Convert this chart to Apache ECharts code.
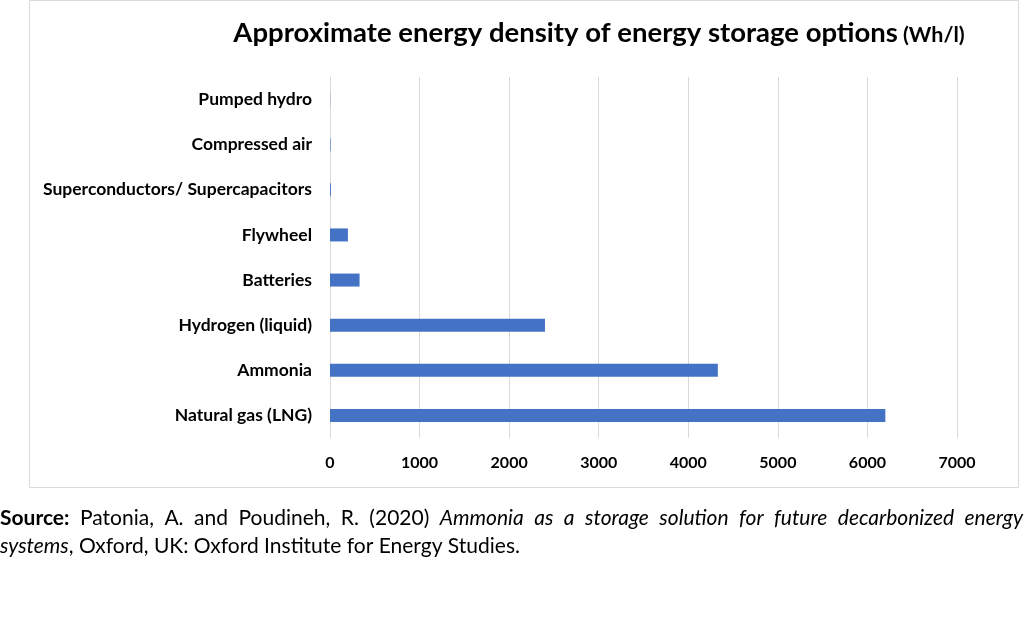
<!DOCTYPE html>
<html><head><meta charset="utf-8">
<script src="https://cdn.jsdelivr.net/npm/echarts@6/dist/echarts.min.js"></script>
<style>html,body{margin:0;padding:0;background:#fff}#c{width:1033px;height:631px}</style>
</head><body><div id="c"></div>
<script>
const categories = ['Natural gas (LNG)','Ammonia','Hydrogen (liquid)','Batteries','Flywheel','Superconductors/ Supercapacitors','Compressed air','Pumped hydro'];
const values = [6200, 4330, 2400, 330, 200, 10, 6, 2];
const xTicks = {min: 0, max: 7000, interval: 1000};
const titleMain = 'Approximate energy density of energy storage options';
const titleUnit = '(Wh/l)';
const sourceLine1 = [['b','Source:'],['n','Patonia,'],['n','A.'],['n','and'],['n','Poudineh,'],['n','R.'],['n','(2020)'],['i','Ammonia'],['i','as'],['i','a'],['i','storage'],['i','solution'],['i','for'],['i','future'],['i','decarbonized'],['i','energy']];
const sourceLine2 = [['i','systems'],['n',', Oxford, UK: Oxford Institute for Energy Studies.']];
const font = 'Lato, "Open Sans", sans-serif';

function richStyles(gap) {
  const base = {fontFamily: font, fontSize: 21, fill: '#000'};
  return {
    b: Object.assign({}, base, {fontWeight: 'bold', padding: [0, gap, 0, 0]}),
    n: Object.assign({}, base, {padding: [0, gap, 0, 0]}),
    i: Object.assign({}, base, {fontStyle: 'italic', padding: [0, gap, 0, 0]})
  };
}

const chart = echarts.init(document.getElementById('c'), null, {renderer: 'canvas'});
chart.setOption({
  animation: false,
  backgroundColor: '#fff',
  title: {
    text: '{a|' + titleMain + '} {b|' + titleUnit + '}',
    left: 594, top: 14, textAlign: 'center',
    textStyle: {rich: {
      a: {fontFamily: font, fontWeight: 'bold', fontSize: 27.5, color: '#000'},
      b: {fontFamily: font, fontWeight: 'bold', fontSize: 21.5, color: '#000', padding: [4, 0, 0, 0]}
    }}
  },
  grid: {left: 330, right: 1033 - 957, top: 77, bottom: 631 - 438, containLabel: false},
  xAxis: {
    type: 'value', min: xTicks.min, max: xTicks.max, interval: xTicks.interval,
    axisLine: {show: false}, axisTick: {show: false},
    splitLine: {lineStyle: {color: '#d9d9d9', width: 1}},
    axisLabel: {fontFamily: font, fontWeight: 'bold', fontSize: 16, color: '#000', margin: 17,
      formatter: v => String(v)}
  },
  yAxis: {
    type: 'category', data: categories,
    axisLine: {show: true, lineStyle: {color: '#d9d9d9'}}, axisTick: {show: false},
    axisLabel: {fontFamily: font, fontWeight: 'bold', fontSize: 17.5, color: '#000', margin: 18}
  },
  series: [{
    type: 'bar', data: values, barWidth: 13,
    itemStyle: {color: '#4472c4'}
  }],
  graphic: [
    {type: 'rect', shape: {x: 29.5, y: 0.5, width: 989, height: 487}, style: {fill: 'none', stroke: '#d9d9d9', lineWidth: 1}, z: -1},
    {type: 'text', left: 0, top: 508, style: {
      text: sourceLine1.map(w => '{' + w[0] + '|' + w[1] + '}').join(''),
      rich: richStyles(10.5)}},
    {type: 'text', left: 0, top: 536, style: {
      text: sourceLine2.map(w => '{' + w[0] + '|' + w[1] + '}').join(''),
      rich: richStyles(0)}}
  ]
});
</script></body></html>
